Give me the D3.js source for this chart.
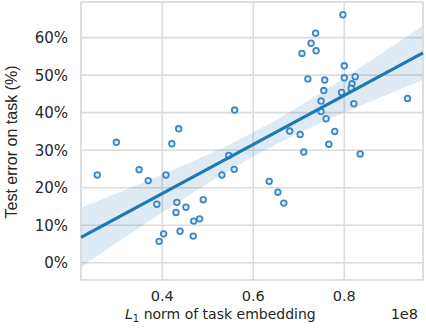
<!DOCTYPE html>
<html>
<head>
<meta charset="utf-8">
<script src="https://cdn.jsdelivr.net/npm/d3@7"></script>
<style>
  body { margin: 0; background: #fff; }
  svg { display: block; }
</style>
</head>
<body>
<div id="chart"></div>
<script>
const width = 426;
const height = 328;

// L1 norm of task embedding (x 1e8) and test error (%)
const normValues = [
    0.257, 0.299, 0.349, 0.369, 0.408, 0.388, 0.432, 0.430, 0.452, 0.490,
    0.469, 0.482, 0.439, 0.403, 0.393, 0.468, 0.436, 0.421, 0.546, 0.531,
    0.558, 0.635, 0.654, 0.667, 0.559, 0.797, 0.737, 0.727, 0.707, 0.738,
    0.800, 0.720, 0.757, 0.800, 0.824, 0.817, 0.815, 0.755, 0.794, 0.749,
    0.821, 0.749, 0.760, 0.779, 0.766, 0.680, 0.703, 0.711, 0.835, 0.939
];
const errorValues = [
    23.4, 32.1, 24.8, 21.9, 23.4, 15.6, 16.1, 13.4, 14.8, 16.8,
    11.1, 11.7, 8.4, 7.7, 5.7, 7.1, 35.7, 31.7, 28.6, 23.4,
    24.9, 21.7, 18.8, 15.9, 40.7, 66.1, 61.2, 58.5, 55.8, 56.5,
    52.5, 49.0, 48.7, 49.3, 49.6, 47.7, 46.5, 45.9, 45.4, 43.1,
    42.4, 40.3, 38.4, 35.0, 31.6, 35.1, 34.2, 29.5, 29.0, 43.8
];
const xTicks = [0.4, 0.6, 0.8];
const yTicks = [0, 10, 20, 30, 40, 50, 60];

const points = normValues.map((x, i) => ({ x: x, y: errorValues[i] }));

const margin = { top: 2, right: 3, bottom: 48, left: 81 };
const plotW = width - margin.left - margin.right;
const plotH = height - margin.top - margin.bottom;

const svg = d3.select("#chart")
    .append("svg")
    .attr("width", width)
    .attr("height", height);

const x = d3.scaleLinear().domain([0.2213, 0.973]).range([margin.left, margin.left + plotW]);
const y = d3.scaleLinear().domain([-4.6, 69.5]).range([margin.top + plotH, margin.top]);

// grid
svg.append("g")
    .selectAll("line")
    .data(xTicks)
    .join("line")
    .attr("x1", d => x(d)).attr("x2", d => x(d))
    .attr("y1", margin.top).attr("y2", margin.top + plotH)
    .attr("stroke", "#dcdcdc")
    .attr("stroke-width", 1.6);

svg.append("g")
    .selectAll("line")
    .data(yTicks)
    .join("line")
    .attr("x1", margin.left).attr("x2", margin.left + plotW)
    .attr("y1", d => y(d)).attr("y2", d => y(d))
    .attr("stroke", "#dcdcdc")
    .attr("stroke-width", 1.6);

// linear fit with 95% band
const n = points.length;
const mx = d3.mean(normValues);
const my = d3.mean(errorValues);
const sxx = d3.sum(normValues, v => (v - mx) * (v - mx));
const sxy = d3.sum(points, p => (p.x - mx) * (p.y - my));
const slope = sxy / sxx;
const intercept = my - slope * mx;
const sse = d3.sum(points, p => Math.pow(p.y - (intercept + slope * p.x), 2));
const se = Math.sqrt(sse / (n - 2));
const tval = 2.01;

const xs = d3.range(0, 101).map(i => x.domain()[0] + (x.domain()[1] - x.domain()[0]) * i / 100);
const band = xs.map(v => {
    const fit = intercept + slope * v;
    const h = tval * se * Math.sqrt(1 / n + (v - mx) * (v - mx) / sxx);
    return { x: v, lo: fit - h, hi: fit + h };
});

svg.append("path")
    .datum(band)
    .attr("d", d3.area().x(d => x(d.x)).y0(d => y(d.lo)).y1(d => y(d.hi)))
    .attr("fill", "#1f77b4")
    .attr("fill-opacity", 0.15);

// frame
svg.append("rect")
    .attr("x", margin.left).attr("y", margin.top)
    .attr("width", plotW).attr("height", plotH)
    .attr("fill", "none")
    .attr("stroke", "#d6d6d6")
    .attr("stroke-width", 1.6);

// points
svg.append("g")
    .selectAll("circle")
    .data(points)
    .join("circle")
    .attr("cx", d => x(d.x))
    .attr("cy", d => y(d.y))
    .attr("r", 2.8)
    .attr("fill", "#e3eef8")
    .attr("stroke", "#3a88c6")
    .attr("stroke-width", 1.8);

svg.append("line")
    .attr("x1", x(x.domain()[0])).attr("y1", y(intercept + slope * x.domain()[0]))
    .attr("x2", x(x.domain()[1])).attr("y2", y(intercept + slope * x.domain()[1]))
    .attr("stroke", "#1f77b4")
    .attr("stroke-width", 3.2);

// tick labels
svg.append("g")
    .selectAll("text")
    .data(yTicks)
    .join("text")
    .attr("x", 68)
    .attr("y", d => y(d) + 5.5)
    .attr("text-anchor", "end")
    .attr("font-family", "DejaVu Sans")
    .attr("font-size", 15)
    .attr("fill", "#262626")
    .text(d => d + "%");

svg.append("g")
    .selectAll("text")
    .data(xTicks)
    .join("text")
    .attr("x", d => x(d))
    .attr("y", 301)
    .attr("text-anchor", "middle")
    .attr("font-family", "DejaVu Sans")
    .attr("font-size", 14.5)
    .attr("fill", "#262626")
    .text(d => d.toFixed(1));

// axis labels
const xl = svg.append("text")
    .attr("x", 125)
    .attr("y", 319)
    .attr("font-family", "DejaVu Sans")
    .attr("font-size", 14)
    .attr("fill", "#262626");
xl.append("tspan").attr("font-style", "italic").text("L");
xl.append("tspan").attr("font-size", 10).attr("dy", 3).text("1");
xl.append("tspan").attr("dy", -3).text(" norm of task embedding");

svg.append("text")
    .attr("x", 418)
    .attr("y", 319)
    .attr("text-anchor", "end")
    .attr("font-family", "DejaVu Sans")
    .attr("font-size", 14.5)
    .attr("fill", "#262626")
    .text("1e8");

svg.append("text")
    .attr("transform", "translate(17,142) rotate(-90)")
    .attr("text-anchor", "middle")
    .attr("font-family", "Liberation Sans")
    .attr("font-size", 16)
    .attr("fill", "#262626")
    .text("Test error on task (%)");
</script>
</body>
</html>
